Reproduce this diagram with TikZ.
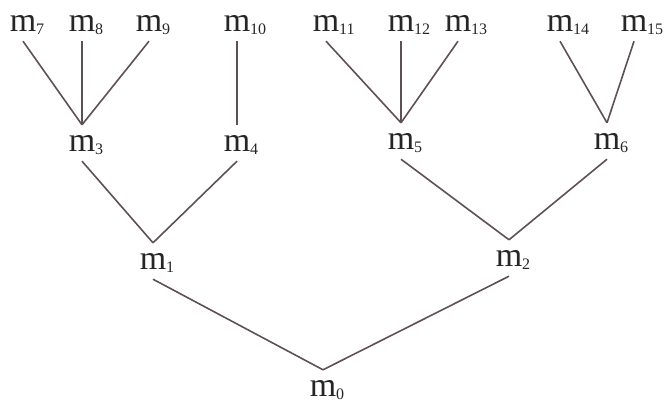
\documentclass[tikz,border=0pt]{standalone}
\usepackage{fontspec}
\setmainfont{Liberation Serif}
\definecolor{edgegray}{RGB}{95,80,85}
\newcommand{\msub}[1]{m\rlap{\smash{\raisebox{-0.25ex}{\fontsize{8}{9}\selectfont #1}}}}

\begin{document}
\begin{tikzpicture}[x=0.5pt, y=-0.5pt, line width=0.8pt,
  lbl/.style={inner xsep=0pt, inner ysep=4.7pt, text=black!85,
              font=\fontsize{17}{20}\selectfont}]
  \useasboundingbox (0,0) rectangle (667,401);
  % nodos: hojas, nivel 2, nivel 1, raiz
  \foreach \n/\x/\y in {7/23/23, 8/82/23, 9/149/23, 10/237/23, 11/326/23,
                        12/401/23, 13/458/23, 14/560/23, 15/634/23,
                        3/82/143, 4/237/143, 5/401/141, 6/607/141,
                        1/153/261, 2/509/258, 0/323/388}
    { \node[lbl] (m\n) at (\x,\y) {\msub{\n}}; }
  % aristas hijo -> padre
  \foreach \c/\p in {7/3, 8/3, 9/3, 10/4, 11/5, 12/5, 13/5, 14/6, 15/6,
                     3/1, 4/1, 5/2, 6/2, 1/0, 2/0}
    { \draw[edgegray] (m\c.south) -- (m\p.north); }
\end{tikzpicture}
\end{document}
